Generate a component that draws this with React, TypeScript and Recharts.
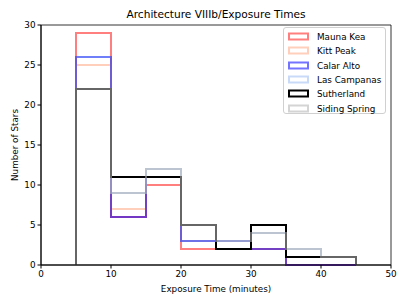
import React from 'react';
import {LineChart, Line, XAxis, YAxis, ReferenceArea} from 'recharts';

const binEdges = [5, 10, 15, 20, 25, 30, 35, 40, 45];
const maunaKea = [29, 6, 10, 2, 2, 2, 0, 0];
const kittPeak = [25, 7, 11, 3, 2, 2, 0, 0];
const calarAlto = [26, 6, 11, 3, 3, 2, 0, 0];
const lasCampanas = [26, 9, 12, 3, 3, 4, 2, 1];
const sutherland = [22, 11, 11, 5, 2, 5, 1, 1];
const sidingSpring = [22, 9, 12, 5, 3, 4, 2, 1];
const xTicks = [0, 10, 20, 30, 40, 50];
const yTicks = [0, 5, 10, 15, 20, 25, 30];

const series = [
	{key: 'Mauna Kea', values: maunaKea, colour: '#ff0000', opacity: 0.5},
	{key: 'Kitt Peak', values: kittPeak, colour: '#ffa07a', opacity: 0.5},
	{key: 'Calar Alto', values: calarAlto, colour: '#0000ff', opacity: 0.55},
	{key: 'Las Campanas', values: lasCampanas, colour: '#6495ed', opacity: 0.35},
	{key: 'Sutherland', values: sutherland, colour: '#000000', opacity: 1},
	{key: 'Siding Spring', values: sidingSpring, colour: '#b4b4b4', opacity: 0.57}
];

// step outline: up from 0 at the first edge, across each bin, down at the last edge
const rows: Record<string, number>[] = [];
rows.push(Object.fromEntries([['x', binEdges[0]], ...series.map((s) => [s.key, 0])]));
binEdges.slice(0, -1).forEach((edge, i) => {
	rows.push(Object.fromEntries([['x', edge], ...series.map((s) => [s.key, s.values[i]])]));
});
const last = binEdges.length - 1;
rows.push(Object.fromEntries([['x', binEdges[last]], ...series.map((s) => [s.key, s.values[last - 1]])]));
rows.push(Object.fromEntries([['x', binEdges[last]], ...series.map((s) => [s.key, 0])]));

const font = 'DejaVu Sans, sans-serif';
const tick = {fontSize: 8.8, fill: '#000', fontFamily: font};

function HistLegend() {
	return (
		<div
			style={{
				position: 'absolute',
				left: 283,
				top: 27,
				width: 103,
				height: 87,
				border: '1px solid #d0d0d0',
				borderRadius: 3,
				background: 'rgba(255,255,255,0.8)',
				fontFamily: font,
				fontSize: 8.8,
				boxSizing: 'border-box'
			}}
		>
			{series.map((s, i) => (
				<div key={s.key} style={{position: 'absolute', left: 4, top: 3 + i * 14.3, height: 12, display: 'flex', alignItems: 'center'}}>
					<svg width={22} height={10} style={{marginRight: 7}}>
						<rect x={1} y={1.5} width={19} height={6} fill="none" stroke={s.colour} strokeOpacity={s.opacity} strokeWidth={2} />
					</svg>
					<span>{s.key}</span>
				</div>
			))}
		</div>
	);
}

export default function App() {
	return (
		<div style={{position: 'absolute', left: 0, top: 0, width: 407, height: 305, background: '#fff'}}>
			<div
				style={{
					position: 'absolute',
					left: 41,
					width: 350,
					top: 8,
					textAlign: 'center',
					fontFamily: font,
					fontSize: 10.6
				}}
			>
				Architecture VIIIb/Exposure Times
			</div>
			<LineChart width={407} height={305} data={rows} margin={{top: 25, right: 16, bottom: 0, left: 0}}>
				<XAxis
					dataKey="x"
					type="number"
					domain={[0, 50]}
					ticks={xTicks}
					allowDuplicatedCategory
					height={40}
					tickSize={3.5}
					tick={tick}
					stroke="#000"
					label={{value: 'Exposure Time (minutes)', position: 'insideBottom', offset: 13, fontSize: 8.8, fill: '#000', fontFamily: font}}
				/>
				<YAxis
					type="number"
					domain={[0, 30]}
					ticks={yTicks}
					width={41}
					tickSize={3.5}
					tick={tick}
					stroke="#000"
					label={{value: 'Number of Stars', angle: -90, position: 'insideLeft', offset: 15, fontSize: 8.8, fill: '#000', fontFamily: font, style: {textAnchor: 'middle'}}}
				/>
				<ReferenceArea x1={0} x2={50} y1={0} y2={30} fill="none" stroke="#000" strokeWidth={0.8} />
				{series.map((s) => (
					<Line
						key={s.key}
						dataKey={s.key}
						type="stepAfter"
						stroke={s.colour}
						strokeOpacity={s.opacity}
						strokeWidth={2}
						dot={false}
						activeDot={false}
						isAnimationActive={false}
					/>
				))}
			</LineChart>
			<HistLegend />
		</div>
	);
}
